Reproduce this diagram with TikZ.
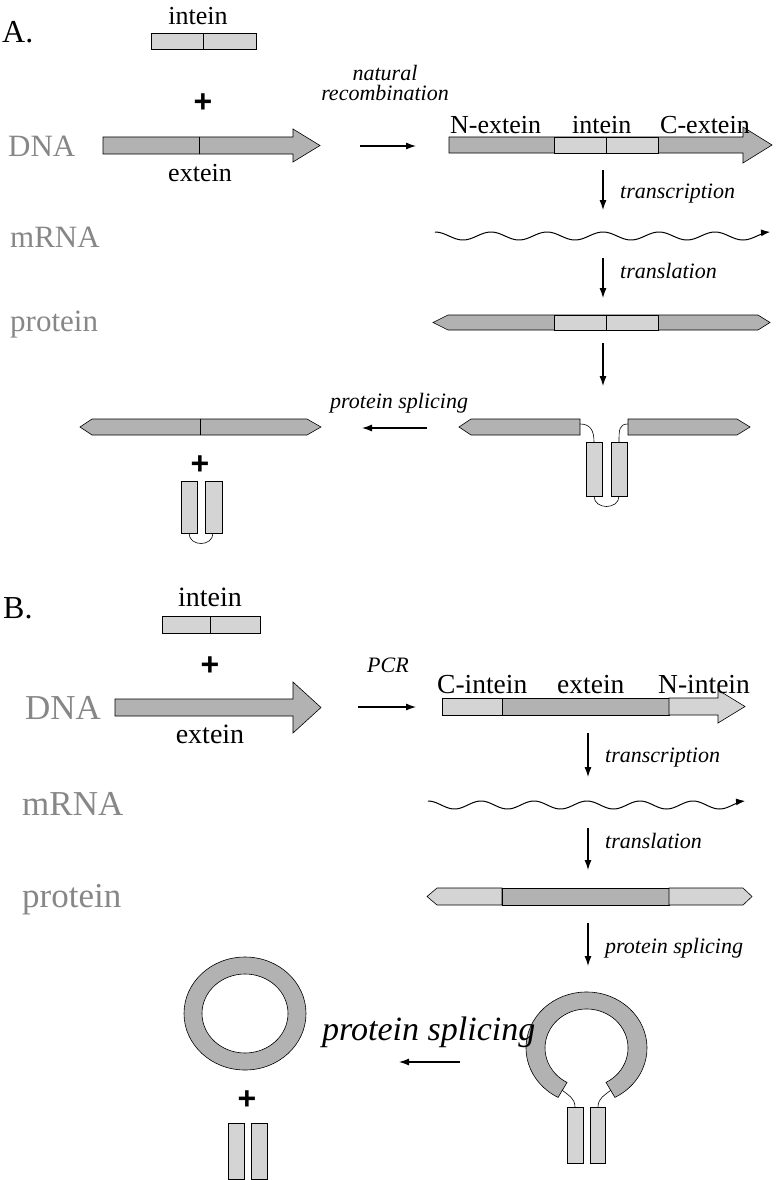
\documentclass[tikz,border=0pt]{standalone}
\usepackage{fontspec}
\setmainfont{Liberation Serif}
\newfontfamily\plusfont{Liberation Sans}
\usetikzlibrary{arrows.meta}

\definecolor{exteingray}{gray}{0.70}
\definecolor{inteingray}{gray}{0.83}
\definecolor{rowgray}{gray}{0.53}

\begin{document}
\begin{tikzpicture}[
        x=1pt, y=-1pt,
        declare function={
            waveA(\x) = 236 - 4*cos((\x-435)*6.4286);
            waveB(\x) = 805 - 4*cos((\x-428)*6.7925);
        },
        every node/.style={inner sep=0pt},
        ext/.style={draw=black, fill=exteingray, line width=0.6pt},
        int/.style={draw=black, fill=inteingray, line width=0.6pt},
        thinline/.style={line width=0.6pt},
        steparrow/.style={-{Latex[length=10pt,width=7pt]}, line width=1.1pt},
        wavearrow/.style={-{Latex[length=9pt,width=7pt]}, line width=1pt},
        partlab/.style={font=\fontsize{32}{34}\selectfont, anchor=base west},
        rowlab/.style={text=rowgray, font=\fontsize{31}{33}\selectfont, anchor=base west},
        bigrowlab/.style={text=rowgray, font=\fontsize{35}{37}\selectfont, anchor=base west},
        piecelab/.style={font=\fontsize{26}{28}\selectfont, anchor=base west},
        bigpiecelab/.style={font=\fontsize{28}{30}\selectfont, anchor=base},
        verb/.style={font=\fontsize{22}{24}\selectfont\itshape, anchor=base west},
        plus/.style={font=\plusfont\bfseries\fontsize{32}{32}\selectfont},
    ]
        \useasboundingbox (0,0) rectangle (781,1180);

        % part A
        \node[partlab] (partA) at (2,43) {A.};
        \node[piecelab, anchor=base] (inteinA) at (198,25) {intein};
        \draw[int] (151,33) rectangle (256,49);
        \draw[thinline] (203,33) -- (203,49);
        \node[plus] (plusA) at (203,103) {+};

        \node[rowlab] (dnaA) at (8,157) {DNA};
        \draw[ext] (103,137) -- (293,137) -- (293,129) -- (320,145.5) -- (293,162) -- (293,154) -- (103,154) -- cycle;
        \draw[thinline] (199,137) -- (199,154);
        \node[piecelab, anchor=base] (exteinA) at (200,181) {extein};

        \node[verb, anchor=base] (naturalA) at (385,81) {natural};
        \node[verb, anchor=base] (recombA) at (385,101) {recombination};
        \draw[steparrow] (360,146) -- (416,146);

        \draw[ext] (449,137) -- (743,137) -- (743,127) -- (772,145) -- (743,163) -- (743,153) -- (449,153) -- cycle;
        \draw[int] (554,137) rectangle (606,153);
        \draw[int] (606,137) rectangle (658,153);
        \node[piecelab] (nexteinA) at (450,133) {N-extein};
        \node[piecelab] (midinteinA) at (572,133) {intein};
        \node[piecelab] (cexteinA) at (660,133) {C-extein};

        \draw[steparrow] (603,170) -- (603,210);
        \node[verb] (transcrA) at (620,198) {transcription};

        \node[rowlab] (mrnaA) at (10,247) {mRNA};
        \draw[wavearrow, domain=435:770, samples=150, smooth, variable=\x] plot ({\x}, {waveA(\x)});

        \draw[steparrow] (603,258) -- (603,298);
        \node[verb] (translA) at (620,278) {translation};

        \node[rowlab] (proteinA) at (10,331) {protein};
        \draw[ext] (433,322.5) -- (448,315) -- (758,315) -- (770,322.5) -- (758,330) -- (448,330) -- cycle;
        \draw[int] (554,315) rectangle (606,330);
        \draw[int] (606,315) rectangle (658,330);

        \draw[steparrow] (603,343) -- (603,386);

        % spliced products
        \draw[ext] (459,427) -- (471,419) -- (580,419) -- (580,435) -- (471,435) -- cycle;
        \draw[ext] (628,419) -- (737,419) -- (750,427) -- (737,435) -- (628,435) -- cycle;
        \draw[thinline] (580,424) .. controls (590,424) and (594,430) .. (594,442);
        \draw[thinline] (628,424) .. controls (619,424) and (619,430) .. (619,442);
        \draw[int] (586,442) rectangle (602,496);
        \draw[int] (611,442) rectangle (627,496);
        \draw[thinline] (594,496) .. controls (594,510) and (619,510) .. (619,496);

        \node[verb] (splicA) at (330,408) {protein splicing};
        \draw[steparrow] (427,428) -- (362,428);

        \draw[ext] (80,427) -- (92,419) -- (307,419) -- (321,427) -- (307,435) -- (92,435) -- cycle;
        \draw[thinline] (200,419) -- (200,435);
        \node[plus] (plusA2) at (200,465) {+};
        \draw[int] (181,481) rectangle (197,533);
        \draw[int] (205,481) rectangle (222,533);
        \draw[thinline] (189,533) .. controls (189,547) and (213,547) .. (213,533);

        % part B
        \node[partlab] (partB) at (3,618) {B.};
        \node[bigpiecelab] (inteinB) at (210,606) {intein};
        \draw[int] (162,616) rectangle (260,633);
        \draw[thinline] (210,616) -- (210,633);
        \node[plus] (plusB) at (210,666) {+};

        \node[bigrowlab] (dnaB) at (25,719) {DNA};
        \draw[ext] (115,699) -- (293,699) -- (293,682) -- (321,707.5) -- (293,733) -- (293,716) -- (115,716) -- cycle;
        \node[bigpiecelab] (exteinB) at (210,743) {extein};

        \node[verb] (pcrB) at (367,672) {PCR};
        \draw[steparrow] (358,707) -- (416,707);

        \draw[int] (442,698) rectangle (502,715);
        \draw[ext] (502,698) rectangle (669,715);
        \draw[int] (669,698) -- (718,698) -- (718,690) -- (745,706.5) -- (718,723) -- (718,715) -- (669,715) -- cycle;
        \node[piecelab, font=\fontsize{27.5}{29}\selectfont] (cinteinB) at (437,693) {C-intein};
        \node[piecelab, font=\fontsize{27.5}{29}\selectfont] (midexteinB) at (557,693) {extein};
        \node[piecelab, font=\fontsize{27.5}{29}\selectfont] (ninteinB) at (658,693) {N-intein};

        \draw[steparrow] (588,733) -- (588,777);
        \node[verb] (transcrB) at (605,762) {transcription};

        \node[bigrowlab] (mrnaB) at (22,815) {mRNA};
        \draw[wavearrow, domain=428:745, samples=150, smooth, variable=\x] plot ({\x}, {waveB(\x)});

        \draw[steparrow] (588,828) -- (588,870);
        \node[verb] (translB) at (605,848) {translation};

        \node[bigrowlab] (proteinB) at (22,907) {protein};
        \draw[int] (427,896.5) -- (437,888) -- (502,888) -- (502,905) -- (437,905) -- cycle;
        \draw[ext] (502,888) rectangle (669,905);
        \draw[int] (669,888) -- (743,888) -- (752,896.5) -- (743,905) -- (669,905) -- cycle;

        \draw[steparrow] (588,923) -- (588,966);
        \node[verb] (splicB) at (605,953) {protein splicing};

        % open ring with intein ends
        \draw[ext] (558.1,1097.4) arc[start angle=118, end angle=422, x radius=60.5, y radius=56] -- (606,1082.4) arc[start angle=422, end angle=118, x radius=41.5, y radius=39] -- cycle;
        \draw[thinline] (562,1090) .. controls (568,1095) and (575,1098) .. (575,1107);
        \draw[thinline] (611,1090) .. controls (605,1095) and (598,1098) .. (598,1107);
        \draw[int] (567,1107) rectangle (583,1163);
        \draw[int] (590,1107) rectangle (605,1163);

        \node[verb, font=\fontsize{34}{36}\selectfont\itshape] (splicBig) at (322,1040) {protein splicing};
        \draw[steparrow] (460,1062) -- (399,1062);

        % closed ring
        \draw[ext, even odd rule] (245,1013.5) ellipse [x radius=61, y radius=56.5] (245,1013.5) ellipse [x radius=43, y radius=39.5];
        \node[plus] (plusB2) at (247,1100) {+};
        \draw[int] (228,1123) rectangle (244,1179);
        \draw[int] (251,1123) rectangle (267,1179);
\end{tikzpicture}
\end{document}
